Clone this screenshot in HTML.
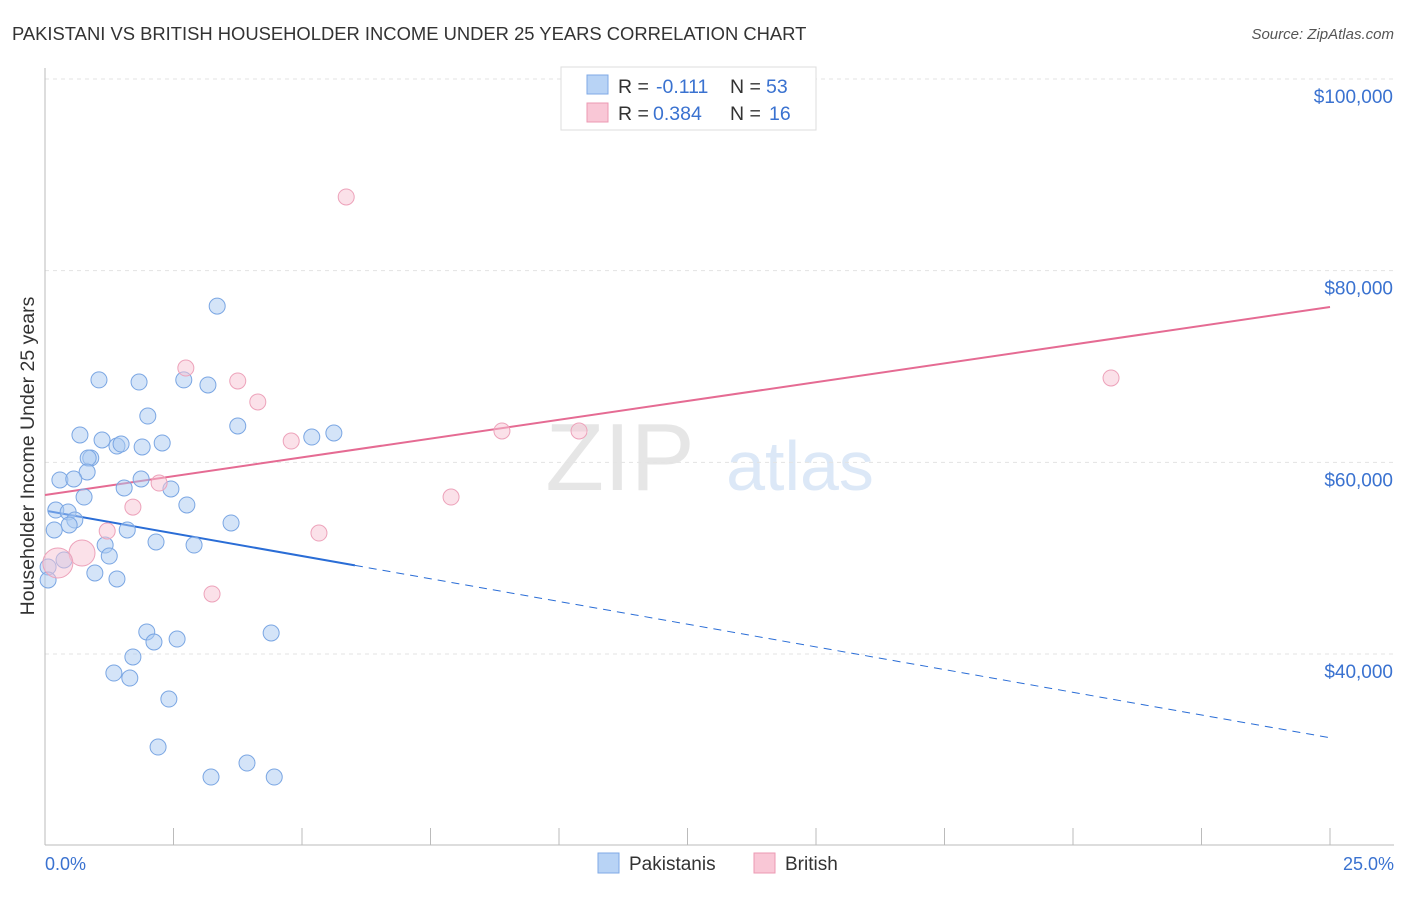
<!DOCTYPE html>
<html><head><meta charset="utf-8"><style>
body{margin:0;background:#fff;font-family:"Liberation Sans",sans-serif;}
svg text{font-family:"Liberation Sans",sans-serif;}
</style></head><body>
<svg width="1406" height="892" xmlns="http://www.w3.org/2000/svg">
<text x="12" y="40" font-size="18.4" fill="#333">PAKISTANI VS BRITISH HOUSEHOLDER INCOME UNDER 25 YEARS CORRELATION CHART</text>
<text x="1394" y="39" font-size="15" fill="#555" text-anchor="end" font-style="italic">Source: ZipAtlas.com</text>
<text x="620" y="490" font-size="96" fill="#e6e6e6" font-family="Liberation Serif" text-anchor="middle">ZIP</text>
<text x="800" y="490" font-size="70" fill="#dce8f7" text-anchor="middle">atlas</text>
<g id="grid"></g><g id="axes"></g><g id="lines"></g><g id="pts"></g>
<text x="34" y="456" font-size="19.5" fill="#333" text-anchor="middle" transform="rotate(-90 34 456)">Householder Income Under 25 years</text>
<text x="45" y="870" font-size="18" fill="#3a72d0">0.0%</text>
<text x="1394" y="870" font-size="18" fill="#3a72d0" text-anchor="end">25.0%</text>
<g>
<rect x="561" y="67" width="255" height="63" fill="#fff" stroke="#ddd"/>
<rect x="587" y="75" width="21" height="19" fill="#b8d3f5" stroke="#7fa9e6"/>
<rect x="587" y="103" width="21" height="19" fill="#f9c7d6" stroke="#ec9ab3"/>
<text x="618" y="93" font-size="19.5" fill="#333">R = <tspan x="656" fill="#3a72d0">-0.111</tspan></text>
<text x="730" y="93" font-size="19.5" fill="#333">N = <tspan x="766" fill="#3a72d0">53</tspan></text>
<text x="618" y="120" font-size="19.5" fill="#333">R = <tspan x="653" fill="#3a72d0">0.384</tspan></text>
<text x="730" y="120" font-size="19.5" fill="#333">N = <tspan x="769" fill="#3a72d0">16</tspan></text>
</g>
<g>
<rect x="598" y="853" width="21" height="20" fill="#b8d3f5" stroke="#7fa9e6"/>
<text x="629" y="870" font-size="19" fill="#333">Pakistanis</text>
<rect x="754" y="853" width="21" height="20" fill="#f9c7d6" stroke="#ec9ab3"/>
<text x="785" y="870" font-size="19" fill="#333">British</text>
</g>
</svg>
<script>
const yTicks=[100000,80000,60000,40000];
const yTickLabels=["$100,000","$80,000","$60,000","$40,000"];
const xTicks=[0,2.5,5,7.5,10,12.5,15,17.5,20,22.5,25];
const blueX=[3.35,1.05,1.83,2.70,3.17,2.00,3.75,0.68,1.11,1.40,1.48,1.89,2.28,5.19,5.62,0.89,0.84,0.82,0.29,0.56,1.87,1.54,2.45,0.76,2.76,0.21,0.45,0.58,0.47,3.62,0.18,1.60,1.17,2.16,2.90,1.25,0.37,0.06,0.06,0.97,1.40,1.98,2.12,2.57,4.40,1.71,1.34,1.65,2.41,2.20,3.23,3.93,4.46];
const blueY=[76300,68600,68380,68600,68070,64830,63790,62850,62330,61700,61910,61600,62020,62640,63060,60450,60450,58990,58160,58260,58260,57320,57220,56380,55550,55020,54820,53980,53460,53670,52940,52940,51370,51690,51370,50220,49810,49080,47720,48450,47830,42300,41250,41560,42190,39690,38010,37490,35300,30290,27160,28620,27160];
const pinkX=[5.86,2.74,3.75,4.14,4.79,8.89,10.39,20.74,2.22,7.90,1.71,1.21,5.33,0.72,0.25,3.25];
const pinkY=[87690,69840,68490,66300,62220,63270,63270,68800,57840,56380,55330,52830,52620,50540,49500,46260];
const pinkR=[8,8,8,8,8,8,8,8,8,8,8,8,8,13,15,8];
const blueFit=[54960,-948], pinkFit=[56590,784.8], blueSolidEnd=6.03;
const X=v=>45+v*51.4, Y=v=>79+(100000-v)*0.009583;
const NS="http://www.w3.org/2000/svg";
function mk(p,t,a){const e=document.createElementNS(NS,t);for(const k in a)e.setAttribute(k,a[k]);document.getElementById(p).appendChild(e);return e;}
yTicks.forEach((v,i)=>{
 const g=mk('grid','line',{x1:45,x2:1394,y1:Y(v),y2:Y(v),stroke:'#e3e3e3','stroke-dasharray':'4,4'});
 
 
 const t=mk('grid','text',{x:1393,y:Y(v)+24,'font-size':19,fill:'#3a72d0','text-anchor':'end'});
 t.textContent=yTickLabels[i];
 
 
});
const ax=mk('axes','line',{x1:45,x2:1394,y1:845,y2:845,stroke:'#bbb'});


const ay=mk('axes','line',{x1:45,x2:45,y1:68,y2:845,stroke:'#bbb'});


xTicks.forEach(v=>{const l=mk('axes','line',{x1:X(v),x2:X(v),y1:828,y2:845,stroke:'#bbb'});
 
 });
const f=(fit,x)=>fit[0]+fit[1]*x;
let l1=mk('lines','line',{x1:X(0.06),y1:Y(f(blueFit,0.06)),x2:X(blueSolidEnd),y2:Y(f(blueFit,blueSolidEnd)),stroke:'#2a6dd6','stroke-width':2});


let l2=mk('lines','line',{x1:X(blueSolidEnd),y1:Y(f(blueFit,blueSolidEnd)),x2:X(25),y2:Y(f(blueFit,25)),stroke:'#2a6dd6','stroke-width':1,'stroke-dasharray':'8,6'});


let l3=mk('lines','line',{x1:X(0),y1:Y(f(pinkFit,0)),x2:X(25),y2:Y(f(pinkFit,25)),stroke:'#e56b93','stroke-width':2});


blueX.forEach((x,i)=>{const c=mk('pts','circle',{cx:X(x),cy:Y(blueY[i]),r:8,fill:'rgba(170,202,242,0.5)',stroke:'#7aa6e3','stroke-width':1});
 
 });
pinkX.forEach((x,i)=>{const c=mk('pts','circle',{cx:X(x),cy:Y(pinkY[i]),r:pinkR[i],fill:'rgba(248,195,212,0.5)',stroke:'#eda2ba','stroke-width':1});
 
 });
</script>
</body></html>
